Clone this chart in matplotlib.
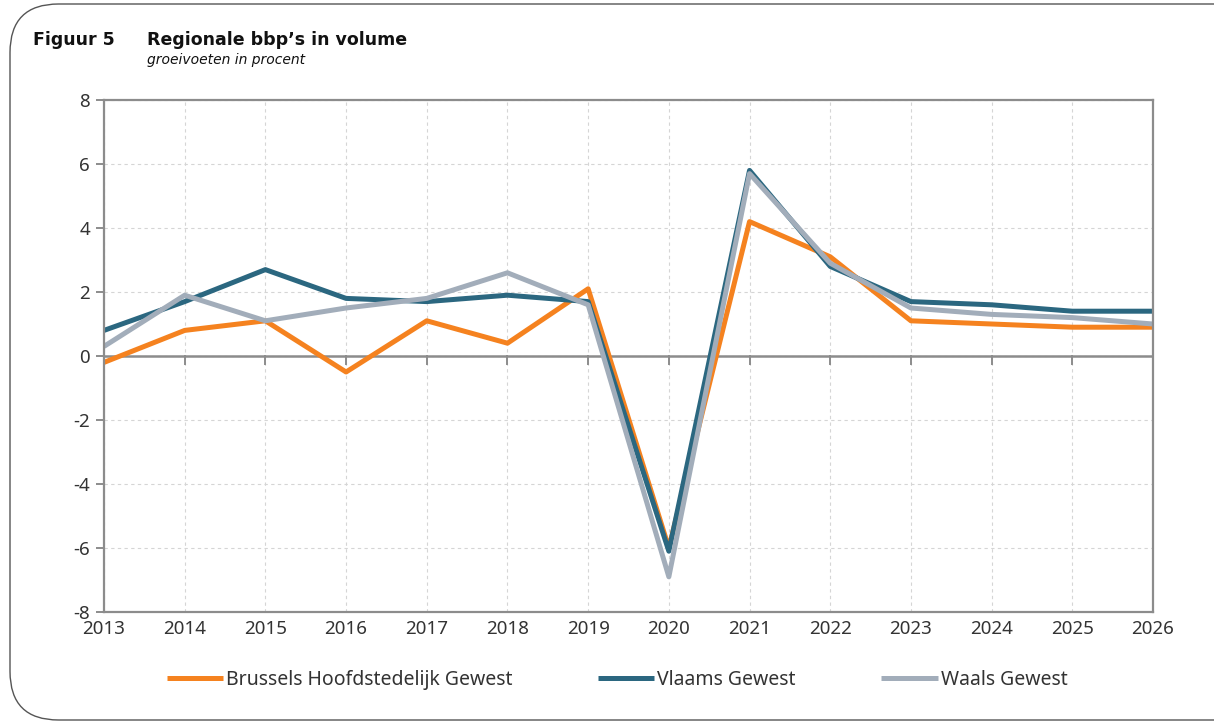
import matplotlib

matplotlib.use("Agg")

import matplotlib.pyplot as plt
from matplotlib.patches import FancyBboxPatch
import numpy as np

years = np.arange(2013, 2027)
brussels = [-0.2, 0.8, 1.1, -0.5, 1.1, 0.4, 2.1, -6.0, 4.2, 3.1, 1.1, 1.0, 0.9, 0.9]
vlaams = [0.8, 1.7, 2.7, 1.8, 1.7, 1.9, 1.7, -6.1, 5.8, 2.8, 1.7, 1.6, 1.4, 1.4]
waals = [0.3, 1.9, 1.1, 1.5, 1.8, 2.6, 1.6, -6.9, 5.7, 2.9, 1.5, 1.3, 1.2, 1.0]

series = [
    ("Brussels Hoofdstedelijk Gewest", brussels, "#F5821F"),
    ("Vlaams Gewest", vlaams, "#2B6780"),
    ("Waals Gewest", waals, "#A2ADBA"),
]

plt.rcParams["font.family"] = ["Noto Sans", "DejaVu Sans"]
plt.rcParams["axes.unicode_minus"] = False

fig = plt.figure(figsize=(12.14, 7.24), dpi=100)
ax = fig.add_axes([104 / 1214, 1 - 612 / 724, (1153 - 104) / 1214, 512 / 724])

# rounded frame around the whole figure
frame = FancyBboxPatch(
    (10 / 1214, 4 / 724), 1300 / 1214, 716 / 724,
    boxstyle="round,pad=0,rounding_size=0.04",
    transform=fig.transFigure, facecolor="none", edgecolor="#555555", linewidth=1.0,
    mutation_aspect=1214 / 724,
)
fig.patches.append(frame)

fig.text(33 / 1214, 1 - 40 / 724, "Figuur 5", fontsize=12.5, fontweight="bold", va="center",
         color="#111111", family="DejaVu Sans")
fig.text(147 / 1214, 1 - 40 / 724, "Regionale bbp\u2019s in volume", fontsize=12.5, fontweight="bold",
         va="center", color="#111111", family="DejaVu Sans")
fig.text(147 / 1214, 1 - 60 / 724, "groeivoeten in procent", fontsize=10, style="italic",
         va="center", color="#111111", family="DejaVu Sans")

lines = []
for label, vals, color in series:
    (ln,) = ax.plot(years, vals, color=color, linewidth=3.6, label=label, solid_capstyle="butt")
    lines.append(ln)

ax.set_xlim(2013, 2026)
ax.set_ylim(-8, 8)
ax.set_xticks(years)
ax.set_yticks(np.arange(-8, 9, 2))
ax.grid(True, color="#D5D5D5", linestyle=(0, (3, 3)), linewidth=0.8)
ax.set_axisbelow(True)

for side in ["left", "right", "top", "bottom"]:
    ax.spines[side].set_color("#8C8C8C")
    ax.spines[side].set_linewidth(1.6)

ax.axhline(0, color="#8C8C8C", linewidth=1.8, zorder=1.5)
for yr in years:
    ax.plot([yr, yr], [0, -0.25], color="#8C8C8C", linewidth=1.4, zorder=1.5, clip_on=False)

ax.tick_params(axis="y", length=6, width=1.4, color="#8C8C8C", labelsize=13.5, labelcolor="#333333", pad=4)
ax.tick_params(axis="x", length=0, labelsize=13.5, labelcolor="#333333", pad=6)

fig.legend(
    handles=lines, loc="center", bbox_to_anchor=(617 / 1214, 1 - 680 / 724), ncol=3,
    frameon=False, fontsize=14, handlelength=2.9, handletextpad=0.15, columnspacing=4.4,
    labelcolor="#333333",
)

fig.savefig("out.png", dpi=100)
